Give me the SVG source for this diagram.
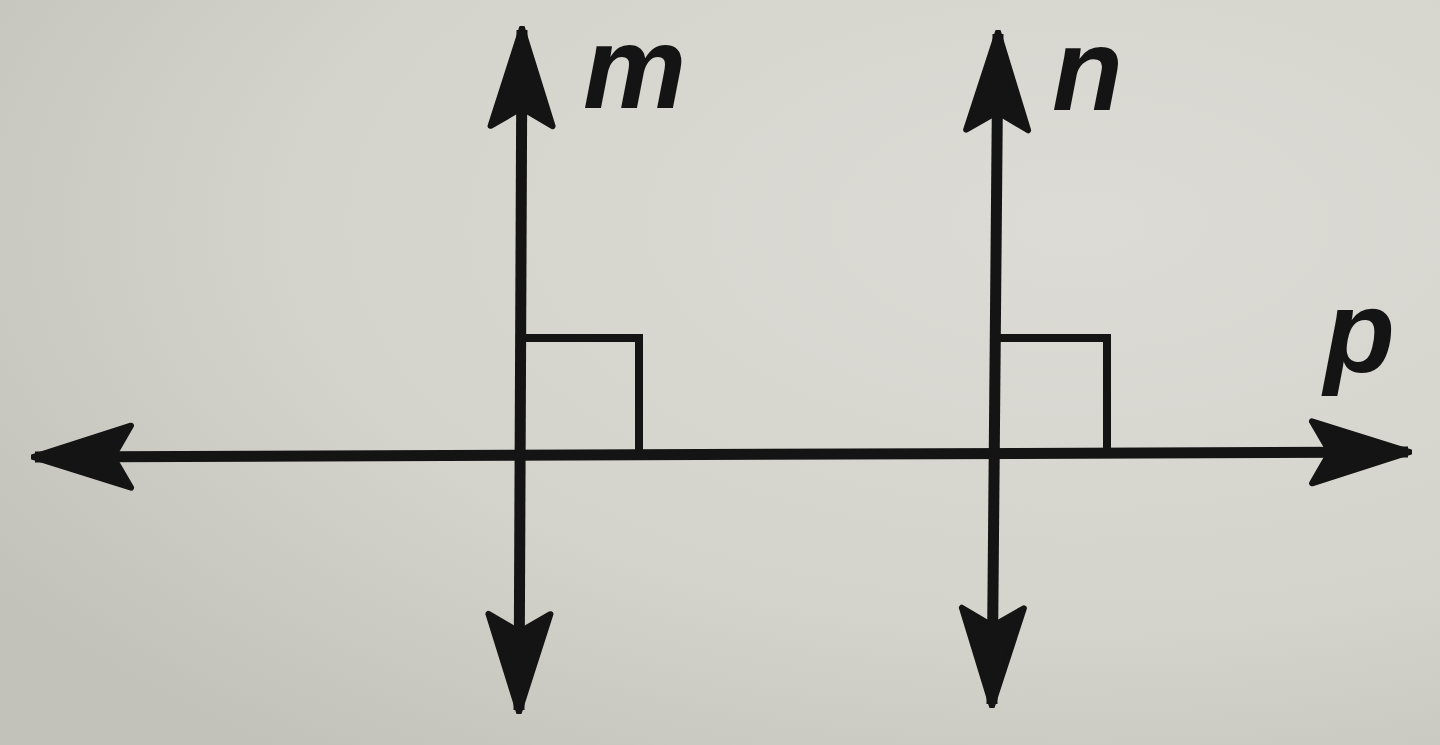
<svg xmlns="http://www.w3.org/2000/svg" width="1440" height="745" viewBox="0 0 1440 745">
  <defs>
    <radialGradient id="bg" cx="0.75" cy="0.3" r="0.9">
      <stop offset="0" stop-color="#dcdbd5"/>
      <stop offset="0.6" stop-color="#d4d3cc"/>
      <stop offset="1" stop-color="#c2c1ba"/>
    </radialGradient>
    <marker id="arr" markerUnits="userSpaceOnUse" viewBox="-100 -36 104 72" refX="0" refY="0" markerWidth="104" markerHeight="72" orient="auto-start-reverse">
      <path d="M2,0 L-96,-31 L-78,0 L-96,31 Z" fill="#141414" stroke="#141414" stroke-width="6" stroke-linejoin="round"/>
    </marker>
    <style>
      .ln { stroke: #141414; stroke-width: 11; fill: none; }
      .ra { stroke: #141414; stroke-width: 8; fill: none; }
      .lbl { font-family: "Liberation Sans", Arial, sans-serif; font-style: italic; font-weight: bold; font-size: 116px; fill: #141414; }
    </style>
  </defs>
  <rect width="1440" height="745" fill="url(#bg)"/>
  <g id="connectors">
    <line id="line-p" class="ln" x1="35" y1="457" x2="1408" y2="452" marker-start="url(#arr)" marker-end="url(#arr)"/>
    <line id="line-m" class="ln" x1="522" y1="30" x2="519" y2="710" marker-start="url(#arr)" marker-end="url(#arr)"/>
    <line id="line-n" class="ln" x1="998" y1="34" x2="992" y2="704" marker-start="url(#arr)" marker-end="url(#arr)"/>
  </g>
  <g id="right-angle-m">
    <polyline class="ra" points="522,338 639,338 639,455"/>
  </g>
  <g id="right-angle-n">
    <polyline class="ra" points="997,338 1107,338 1107,452"/>
  </g>
  <g id="label-m"><text class="lbl" x="583" y="108">m</text></g>
  <g id="label-n"><text class="lbl" x="1052" y="110">n</text></g>
  <g id="label-p"><text class="lbl" x="1324" y="372">p</text></g>
</svg>
